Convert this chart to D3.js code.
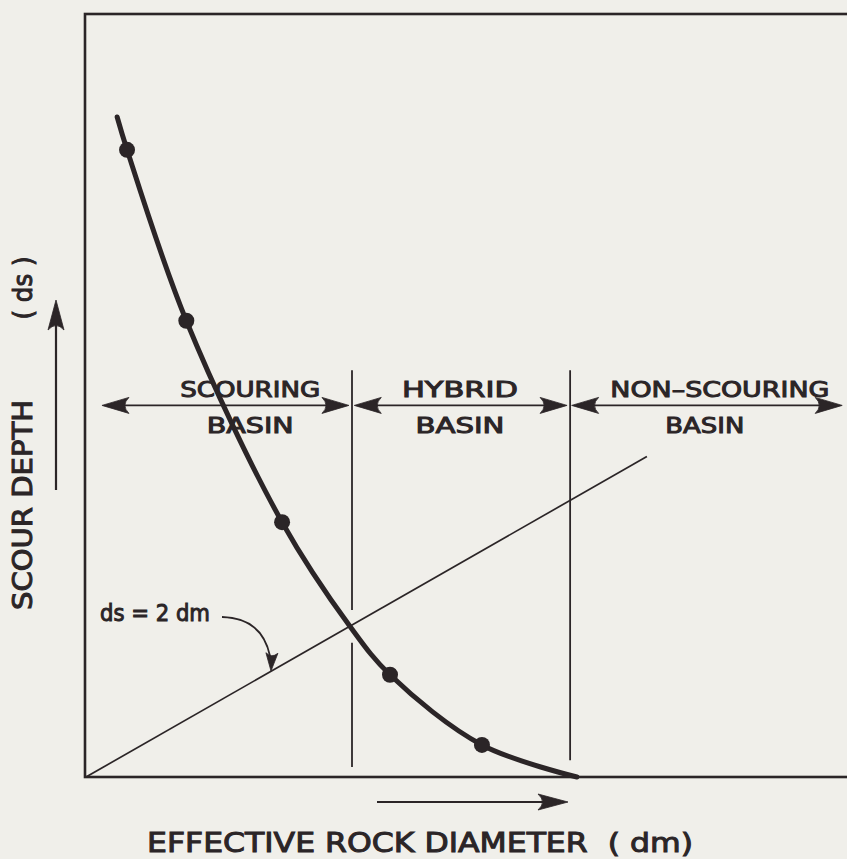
<!DOCTYPE html>
<html>
<head>
<meta charset="utf-8">
<script src="https://cdn.jsdelivr.net/npm/d3@7"></script>
<style>
  html, body { margin: 0; padding: 0; background: #f0efea; }
  svg { display: block; }
  text { font-family: "DejaVu Sans", "Liberation Sans", sans-serif; fill: #2b2527; }
</style>
</head>
<body>
<svg id="chart" width="847" height="859"></svg>
<script>
// ---- data (in chart units) ----
const curveX = [0.41, 0.54, 1.32, 2.58, 3.47, 4.00, 5.21, 6.46];
const curveY = [8.65, 8.22, 5.98, 3.34, 1.98, 1.34, 0.42, 0.00];
const markX = [0.54, 1.32, 2.58, 4.00, 5.21];
const markY = [8.22, 5.98, 3.34, 1.34, 0.42];
const refLineX = [0, 7.38];
const refLineY = [0, 4.20];
const boundaryX = [3.50, 6.37];
const boundaryTop = [5.33, 5.33];
const boundaryBottom = [0.13, 0.22];
const boundaryGap = [[1.76, 2.19], null];
const basinNames = ["SCOURING", "HYBRID", "NON\u2013SCOURING"];
const basinCenters = [2.16, 4.92, 8.34];
const basinArrowFrom = [0.21, 3.53, 6.39];
const basinArrowTo = [3.46, 6.33, 9.95];
const basinArrowY = 4.87;
const xLabel = "EFFECTIVE ROCK DIAMETER  ( dm)";
const yLabel = "SCOUR DEPTH";
const yLabelUnit = "( ds )";
const refLabel = "ds = 2 dm";

const ink = "#2b2527";
const svg = d3.select("#chart");

const x = d3.scaleLinear().domain([0, 10]).range([86, 846]);
const y = d3.scaleLinear().domain([0, 10]).range([777, 14]);

function head(g, tx, ty, ang, len, half) {
  const c = Math.cos(ang), s = Math.sin(ang);
  const pt = (u, v) => [tx - u * c - v * s, ty - u * s + v * c];
  const a = pt(0, 0), b = pt(len, half), m = pt(len * 0.7, 0), d = pt(len, -half);
  g.append("path")
    .attr("d", `M${a[0]},${a[1]}L${b[0]},${b[1]}Q${m[0]},${m[1]} ${d[0]},${d[1]}Z`)
    .attr("fill", ink).attr("stroke", ink).attr("stroke-width", 0.8).attr("stroke-linejoin", "round");
}

// frame
svg.append("rect")
  .attr("x", x(0) - 1).attr("y", y(10))
  .attr("width", 900).attr("height", y(0) - y(10))
  .attr("fill", "none").attr("stroke", ink).attr("stroke-width", 2.6);

// boundary vertical lines
const bg = svg.append("g").attr("stroke", ink).attr("stroke-width", 1.8);
boundaryX.forEach((bx, i) => {
  const segs = boundaryGap[i]
    ? [[boundaryTop[i], boundaryGap[i][1]], [boundaryGap[i][0], boundaryBottom[i]]]
    : [[boundaryTop[i], boundaryBottom[i]]];
  segs.forEach(s => {
    bg.append("line")
      .attr("x1", x(bx)).attr("x2", x(bx))
      .attr("y1", y(s[0])).attr("y2", y(s[1]));
  });
});

// reference line ds = 2 dm
svg.append("line")
  .attr("x1", x(refLineX[0])).attr("y1", y(refLineY[0]))
  .attr("x2", x(refLineX[1])).attr("y2", y(refLineY[1]))
  .attr("stroke", ink).attr("stroke-width", 1.7);

// basin arrows
const ag = svg.append("g");
basinArrowFrom.forEach((fx, i) => {
  const tx = basinArrowTo[i];
  ag.append("line")
    .attr("x1", x(fx) + 4).attr("x2", x(tx) - 4)
    .attr("y1", y(basinArrowY)).attr("y2", y(basinArrowY))
    .attr("stroke", ink).attr("stroke-width", 1.8);
  head(ag, x(fx), y(basinArrowY), Math.PI, 27, 8);
  head(ag, x(tx), y(basinArrowY), 0, 27, 8);
});

// basin labels
const labelWidths = [140, 116, 219];
const basinWidths = [87, 89, 79];
basinNames.forEach((name, i) => {
  svg.append("text")
    .attr("x", x(basinCenters[i])).attr("y", 397)
    .attr("text-anchor", "middle").attr("font-size", 22)
    .attr("textLength", labelWidths[i]).attr("lengthAdjust", "spacingAndGlyphs")
    .attr("stroke", ink).attr("stroke-width", 1.0)
    .text(name);
  svg.append("text")
    .attr("x", x(basinCenters[i]) + (i === 2 ? -15 : 0)).attr("y", 433)
    .attr("text-anchor", "middle").attr("font-size", 22)
    .attr("textLength", basinWidths[i]).attr("lengthAdjust", "spacingAndGlyphs")
    .attr("stroke", ink).attr("stroke-width", 1.0)
    .text("BASIN");
});

// main curve
const pts = curveX.map((v, i) => [v, curveY[i]]);
svg.append("path")
  .datum(pts)
  .attr("d", d3.line().x(d => x(d[0])).y(d => y(d[1])).curve(d3.curveCatmullRom.alpha(0.5)))
  .attr("fill", "none").attr("stroke", ink).attr("stroke-width", 5).attr("stroke-linecap", "round");

// marked points
svg.append("g").selectAll("circle")
  .data(markX.map((v, i) => [v, markY[i]]))
  .join("circle")
  .attr("cx", d => x(d[0])).attr("cy", d => y(d[1]))
  .attr("r", 8).attr("fill", ink);

// ds = 2dm label with curved arrow
svg.append("text")
  .attr("x", 100).attr("y", 621)
  .attr("font-size", 23).attr("textLength", 110).attr("lengthAdjust", "spacingAndGlyphs")
  .attr("stroke", ink).attr("stroke-width", 1.0)
  .text(refLabel);
svg.append("path")
  .attr("d", "M222,617 Q262,618 270,656")
  .attr("fill", "none").attr("stroke", ink).attr("stroke-width", 1.8);
head(svg, 271, 671, Math.PI / 2 + 0.05, 18, 6);

// y axis label + arrow
svg.append("text")
  .attr("transform", "translate(32,505) rotate(-90)")
  .attr("text-anchor", "middle").attr("font-size", 26)
  .attr("textLength", 210).attr("lengthAdjust", "spacingAndGlyphs")
  .attr("stroke", ink).attr("stroke-width", 1.0)
  .text(yLabel);
svg.append("text")
  .attr("transform", "translate(32,288) rotate(-90)")
  .attr("text-anchor", "middle").attr("font-size", 26)
  .attr("textLength", 63).attr("lengthAdjust", "spacingAndGlyphs")
  .attr("stroke", ink).attr("stroke-width", 1.0)
  .text(yLabelUnit);
svg.append("line")
  .attr("x1", 56).attr("x2", 56).attr("y1", 490).attr("y2", 320)
  .attr("stroke", ink).attr("stroke-width", 2.2);
head(svg, 56, 300, -Math.PI / 2, 30, 8);

// x axis label + arrow
svg.append("line")
  .attr("x1", 377).attr("x2", 550).attr("y1", 802).attr("y2", 802)
  .attr("stroke", ink).attr("stroke-width", 2.2);
head(svg, 568, 802, 0, 30, 8);
svg.append("text")
  .attr("x", 147).attr("y", 852)
  .attr("font-size", 27).attr("textLength", 546).attr("lengthAdjust", "spacingAndGlyphs")
  .attr("stroke", ink).attr("stroke-width", 1.0)
  .style("white-space", "pre")
  .text(xLabel);
</script>
</body>
</html>
